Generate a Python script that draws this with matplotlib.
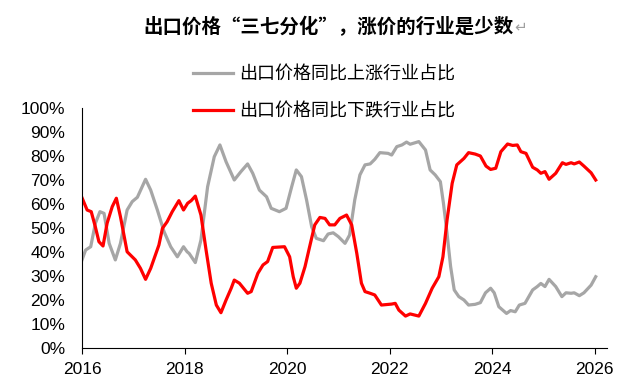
import matplotlib
matplotlib.use("Agg")
from matplotlib import pyplot as plt
from matplotlib.ticker import FuncFormatter

# 出口价格同比下跌行业占比 (红线)
red_t = [2016.00, 2016.10, 2016.18, 2016.26, 2016.33, 2016.41, 2016.49, 2016.59, 2016.67, 2016.75,
         2016.88, 2017.04, 2017.14, 2017.24, 2017.34, 2017.50, 2017.57, 2017.66, 2017.76, 2017.89,
         2017.98, 2018.06, 2018.13, 2018.21, 2018.32, 2018.42, 2018.52, 2018.62, 2018.71, 2018.81,
         2018.91, 2018.97, 2019.07, 2019.23, 2019.30, 2019.43, 2019.53, 2019.62, 2019.72, 2019.95,
         2020.05, 2020.12, 2020.18, 2020.25, 2020.35, 2020.44, 2020.54, 2020.64, 2020.74, 2020.83,
         2020.93, 2021.03, 2021.16, 2021.26, 2021.36, 2021.45, 2021.52, 2021.62, 2021.71, 2021.84,
         2022.04, 2022.11, 2022.18, 2022.31, 2022.40, 2022.57, 2022.70, 2022.83, 2022.96, 2023.04,
         2023.12, 2023.22, 2023.31, 2023.45, 2023.54, 2023.67, 2023.77, 2023.88, 2023.97, 2024.07,
         2024.17, 2024.30, 2024.40, 2024.49, 2024.56, 2024.66, 2024.79, 2024.88, 2024.95, 2025.03,
         2025.11, 2025.24, 2025.37, 2025.44, 2025.54, 2025.60, 2025.70, 2025.79, 2025.93, 2026.02]
red_v = [62.6, 57.5, 56.8, 50.5, 44.3, 42.5, 52.0, 58.9, 62.4, 54.7,
         40.1, 36.7, 33.2, 28.6, 33.2, 42.9, 49.9, 52.6, 56.8, 61.4,
         57.5, 60.3, 61.4, 63.3, 55.4, 40.8, 27.0, 17.9, 14.7, 20.0,
         24.9, 28.3, 27.0, 22.8, 23.5, 31.1, 34.6, 36.0, 41.9, 42.2,
         38.0, 29.7, 24.9, 27.0, 33.9, 42.2, 51.3, 54.4, 54.0, 51.3,
         51.3, 54.0, 55.4, 51.3, 39.4, 27.0, 23.5, 22.8, 22.1, 17.9,
         18.3, 18.6, 15.8, 13.3, 14.2, 13.3, 18.6, 24.9, 29.7, 38.0,
         53.3, 68.6, 76.3, 79.0, 81.4, 80.8, 80.0, 75.8, 74.4, 74.9,
         81.8, 85.0, 84.4, 84.6, 81.8, 81.1, 75.3, 74.2, 72.8, 73.5,
         70.3, 72.8, 77.2, 76.5, 77.2, 76.7, 77.5, 75.8, 73.0, 70.0]

# 出口价格同比上涨行业占比 (灰线)
gray_t = [2016.00, 2016.07, 2016.17, 2016.26, 2016.35, 2016.43, 2016.53, 2016.65, 2016.75, 2016.88,
          2016.98, 2017.08, 2017.24, 2017.34, 2017.47, 2017.60, 2017.73, 2017.86, 2017.98, 2018.05,
          2018.09, 2018.21, 2018.32, 2018.45, 2018.58, 2018.69, 2018.81, 2018.97, 2019.10, 2019.23,
          2019.33, 2019.46, 2019.60, 2019.69, 2019.85, 2019.98, 2020.09, 2020.18, 2020.28, 2020.38,
          2020.48, 2020.57, 2020.71, 2020.80, 2020.90, 2021.00, 2021.13, 2021.22, 2021.32, 2021.42,
          2021.52, 2021.62, 2021.71, 2021.81, 2021.97, 2022.04, 2022.14, 2022.24, 2022.33, 2022.40,
          2022.57, 2022.70, 2022.79, 2022.89, 2022.99, 2023.05, 2023.12, 2023.19, 2023.26, 2023.35,
          2023.45, 2023.54, 2023.67, 2023.77, 2023.87, 2023.97, 2024.04, 2024.13, 2024.28, 2024.36,
          2024.45, 2024.53, 2024.64, 2024.79, 2024.88, 2024.95, 2025.03, 2025.11, 2025.24, 2025.36,
          2025.44, 2025.54, 2025.60, 2025.70, 2025.79, 2025.93, 2026.02]
gray_v = [36.7, 40.8, 42.2, 51.9, 56.8, 56.1, 43.6, 36.7, 43.6, 57.5,
          61.0, 62.8, 70.3, 65.8, 57.5, 48.5, 42.2, 38.0, 42.2, 40.1,
          39.4, 35.6, 45.0, 67.2, 79.7, 84.6, 77.6, 70.0, 73.5, 76.7,
          72.8, 65.8, 63.0, 58.2, 56.8, 58.2, 67.2, 74.2, 71.4, 61.7,
          50.5, 45.7, 44.7, 47.5, 48.0, 46.4, 43.6, 47.1, 61.7, 72.1,
          76.3, 76.7, 78.6, 81.4, 81.1, 80.4, 83.9, 84.6, 85.8, 84.9,
          86.0, 82.5, 74.2, 72.1, 69.3, 60.3, 47.8, 33.9, 24.2, 21.4,
          20.0, 17.9, 18.2, 18.9, 23.0, 24.9, 23.0, 17.2, 14.4, 15.6,
          15.1, 17.9, 18.6, 24.2, 25.6, 26.9, 25.6, 28.6, 25.6, 21.4,
          23.0, 22.8, 23.0, 21.8, 23.0, 26.2, 29.7]

labels = ['出口价格同比上涨行业占比', '出口价格同比下跌行业占比']
title = '出口价格“三七分化”，涨价的行业是少数'
years = [2016, 2018, 2020, 2022, 2024, 2026]
yticks = list(range(0, 101, 10))

cjk = ['Noto Sans CJK SC', 'DejaVu Sans']
plt.rcParams['font.family'] = ['Liberation Sans', 'DejaVu Sans']

fig = plt.figure(figsize=(6.18, 3.87), dpi=100)
ax = fig.add_axes([82 / 618, 1 - 348 / 387, 525 / 618, 240 / 387])

l1, = ax.plot(gray_t, gray_v, color='#A6A6A6', lw=2.3, solid_joinstyle='round')
l2, = ax.plot(red_t, red_v, color='#FF0000', lw=2.3, solid_joinstyle='round')

ax.set_xlim(2016, 2026.24)
ax.set_ylim(0, 100)
ax.set_xticks(years)
ax.set_yticks(yticks)
ax.yaxis.set_major_formatter(FuncFormatter(lambda v, p: f'{int(v)}%'))
ax.tick_params(axis='y', length=0, pad=12, labelsize=12.5)
ax.tick_params(axis='x', length=4, width=0.8, direction='out', pad=6, labelsize=12.5)
for s in ['top', 'right']:
    ax.spines[s].set_visible(False)
for s in ['left', 'bottom']:
    ax.spines[s].set_linewidth(0.8)
    ax.spines[s].set_color('black')

fig.text(514 / 618, 1 - 27 / 387, title, ha='right', va='center',
         fontsize=14, fontweight='bold', family=cjk)
fig.text(514 / 618, 1 - 27 / 387, '↵', ha='left', va='center',
         fontsize=11, color='#A0A0A0', family=['DejaVu Sans'])

fig.legend([l1, l2], labels, loc='center', bbox_to_anchor=(324 / 618, 1 - 93 / 387),
           frameon=False, borderpad=0, handlelength=2.2, handletextpad=0.35,
           labelspacing=1.05, prop={'family': cjk, 'size': 13})

fig.savefig('out.png', dpi=100)
